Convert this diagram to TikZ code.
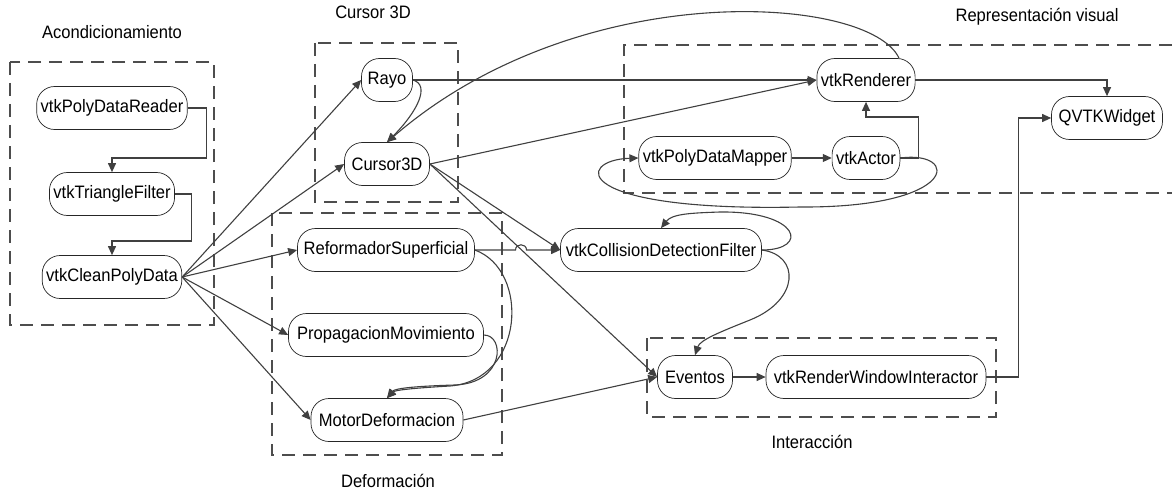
\documentclass[tikz,border=0pt]{standalone}
\usepackage{fontspec}
\setmainfont{Liberation Sans}[FakeStretch=0.92]
\usetikzlibrary{arrows.meta}
\definecolor{edgegray}{HTML}{404040}
\definecolor{boxgray}{HTML}{4D4D4D}

\begin{document}
\begin{tikzpicture}[x=1pt,y=-1pt,
        comp/.style={draw=black!85,fill=white,line width=0.7pt,rounded corners=18pt,minimum height=43pt,inner xsep=4pt,font=\fontsize{18}{20}\selectfont},
        conn/.style={draw=edgegray,line width=1.1pt,-{Triangle[length=9pt,width=8pt]}},
        grp/.style={draw=boxgray,line width=2pt,dash pattern=on 13pt off 8pt},
        lbl/.style={font=\fontsize{18}{20}\selectfont}]
        \useasboundingbox (0,0) rectangle (1172,492);
        \draw[grp] (10,62) rectangle (214,325);
        \draw[grp] (315,43) rectangle (458,202);
        \draw[grp] (272,213) rectangle (502,455);
        \draw[grp] (647,338) rectangle (996,417);
        \draw[grp] (1172,45) -- (624,45) -- (624,193) -- (1172,193);
        \node[lbl] (lacond) at (112,32) {Acondicionamiento};
        \node[lbl] (lcursor) at (373,12) {Cursor 3D};
        \node[lbl] (lrepr) at (1037,17) {Representación visual};
        \node[lbl] (ldeform) at (388,481) {Deformación};
        \node[lbl] (linter) at (812,442) {Interacción};

        \node[comp] (reader) at (112,108) {vtkPolyDataReader};
        \node[comp] (tri) at (112,194) {vtkTriangleFilter};
        \node[comp] (clean) at (112,277) {vtkCleanPolyData};
        \node[comp,minimum width=51pt] (rayo) at (387,80) {Rayo};
        \node[comp,minimum width=85pt] (cursor) at (387,164) {Cursor3D};
        \node[comp,minimum width=177pt] (reform) at (386,250) {ReformadorSuperficial};
        \node[comp,minimum width=195pt] (propag) at (386,335) {PropagacionMovimiento};
        \node[comp,minimum width=152pt] (motor) at (387,420) {MotorDeformacion};
        \node[comp,minimum width=201pt] (colli) at (661,250) {vtkCollisionDetectionFilter};
        \node[comp,minimum width=75pt] (eventos) at (695,377) {Eventos};
        \node[comp,minimum width=220pt] (rwi) at (876,377) {vtkRenderWindowInteractor};
        \node[comp] (renderer) at (866,80) {vtkRenderer};
        \node[comp] (mapper) at (715,158) {vtkPolyDataMapper};
        \node[comp] (actor) at (866,158) {vtkActor};
        \node[comp,minimum width=111pt] (qvtk) at (1107,118) {QVTKWidget};

        \draw[conn] (reader.east) -- ++(19,0) -- ++(0,50) -| (tri.north);
        \draw[conn] (tri.east) -- ++(17,0) -- ++(0,47) -| (clean.north);
        \foreach \t in {rayo,cursor,reform,propag,motor}
            \draw[conn] (clean.east) -- (\t.west);
        \draw[conn] (rayo.east) -- (renderer.west);
        \draw[conn] (rayo.east) .. controls +(18,5) and +(30,-30) .. (cursor.north);
        \draw[conn] ([xshift=33pt]renderer.north) .. controls (870,-5) and (580,-25) .. (cursor.north);
        \foreach \t in {renderer,colli,eventos}
            \draw[conn] (cursor.east) -- (\t.west);
        \draw[conn] (reform.east) -- (515.5,250) .. controls (515.5,243) and (526.5,243) .. (526.5,250) -- (colli.west);
        \draw[conn] (reform.east) .. controls (530,270) and (525,380) .. (450,386) .. controls (415,388) and (395,390) .. (motor.north);
        \draw[conn] (propag.east) .. controls (505,335) and (505,383) .. (455,385) .. controls (420,386) and (395,388) .. (motor.north);
        \draw[conn] (motor.east) -- (eventos.west);
        \draw[conn] (eventos.east) -- (rwi.west);
        \draw[conn] (mapper.east) -- (actor.west);
        \draw[conn] (actor.east) -- ++(18,0) -- ++(0,-41) -| (renderer.south);
        \draw[conn] (actor.east) .. controls (960,150) and (960,208) .. (800,207) .. controls (570,212) and (575,160) .. (mapper.west);
        \draw[conn] (colli.east) .. controls (810,250) and (800,211) .. (720,212) .. controls (690,213) and (672,214) .. (colli.north);
        \draw[conn] (colli.east) .. controls (800,255) and (800,300) .. (750,320) .. controls (720,332) and (700,340) .. (eventos.north);
        \draw[conn] (renderer.east) -| (qvtk.north);
        \draw[conn] (rwi.east) -- ++(32,0) |- (qvtk.west);
    \end{tikzpicture}
\end{document}
